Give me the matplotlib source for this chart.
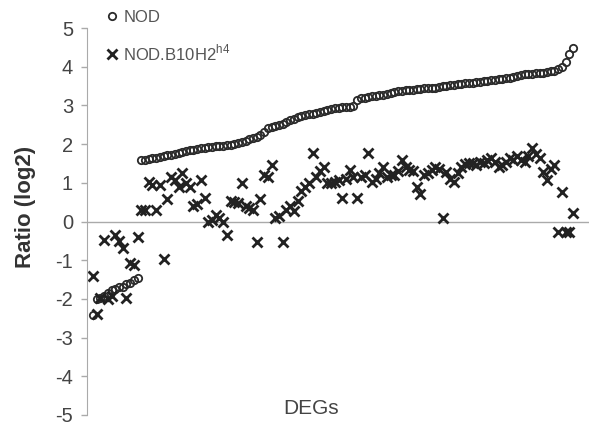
import matplotlib
matplotlib.use("Agg")
import matplotlib.pyplot as plt
import numpy as np

plt.rcParams['font.family'] = ['Liberation Sans', 'DejaVu Sans']
plt.rcParams['axes.unicode_minus'] = False

# log2 ratios per differentially expressed gene, genes sorted by the NOD ratio
nod = [-2.42, -2.00, -1.98, -1.92, -1.85, -1.78, -1.74, -1.70, -1.68, -1.62,
       -1.58, -1.52, -1.47, 1.60, 1.60, 1.61, 1.63, 1.64, 1.67, 1.69,
       1.71, 1.73, 1.75, 1.77, 1.80, 1.82, 1.84, 1.86, 1.88, 1.90,
       1.91, 1.92, 1.93, 1.94, 1.95, 1.96, 1.97, 1.98, 2.00, 2.03,
       2.06, 2.09, 2.12, 2.15, 2.19, 2.23, 2.30, 2.42, 2.44, 2.46,
       2.49, 2.53, 2.58, 2.63, 2.66, 2.70, 2.72, 2.75, 2.77, 2.79,
       2.80, 2.82, 2.85, 2.88, 2.90, 2.92, 2.93, 2.95, 2.96, 2.97,
       2.99, 3.14, 3.18, 3.20, 3.22, 3.23, 3.25, 3.26, 3.28, 3.30,
       3.32, 3.34, 3.36, 3.37, 3.39, 3.40, 3.41, 3.42, 3.43, 3.44,
       3.45, 3.45, 3.46, 3.47, 3.49, 3.51, 3.53, 3.54, 3.55, 3.56,
       3.57, 3.58, 3.59, 3.60, 3.61, 3.62, 3.64, 3.65, 3.66, 3.68,
       3.69, 3.70, 3.72, 3.74, 3.76, 3.78, 3.80, 3.81, 3.82, 3.83,
       3.84, 3.85, 3.86, 3.88, 3.90, 3.93, 4.00, 4.12, 4.32, 4.48]

b10 = [-1.42, -2.40, -1.97, -0.47, -2.00, -1.93, -0.34, -0.50, -0.68, -1.97,
       -1.06, -1.12, -0.40, 0.31, 0.31, 1.03, 0.95, 0.31, 0.95, -0.98,
       0.57, 1.15, 1.08, 0.90, 1.26, 1.00, 0.88, 0.39, 0.45, 1.08,
       0.62, 0.00, 0.05, 0.18, 0.10, 0.00, -0.34, 0.52, 0.50, 0.49,
       1.00, 0.40, 0.36, 0.31, -0.54, 0.57, 1.20, 1.14, 1.47, 0.10,
       0.13, -0.54, 0.31, 0.40, 0.26, 0.52, 0.78, 0.90, 1.00, 1.78,
       1.14, 1.30, 1.42, 1.00, 1.00, 1.03, 1.08, 0.62, 1.10, 1.34,
       1.16, 0.62, 1.16, 1.20, 1.78, 1.03, 1.10, 1.25, 1.40, 1.14,
       1.20, 1.21, 1.30, 1.60, 1.40, 1.34, 1.30, 0.88, 0.70, 1.20,
       1.26, 1.34, 1.42, 1.35, 0.10, 1.29, 1.10, 1.03, 1.26, 1.42,
       1.48, 1.52, 1.52, 1.45, 1.55, 1.50, 1.60, 1.65, 1.55, 1.40,
       1.47, 1.55, 1.65, 1.60, 1.68, 1.60, 1.55, 1.68, 1.90, 1.75,
       1.65, 1.29, 1.08, 1.35, 1.47, -0.28, 0.75, -0.28, -0.28, 0.23]

yticks = list(range(-5, 6))
genes = np.arange(len(nod))

fig = plt.figure(figsize=(5.89, 4.30), dpi=100)
ax = fig.add_axes([87 / 589, 15 / 430, 502 / 589, 387 / 430])

ax.plot(genes, nod, 'o', ms=5.3, mfc='none', mec='#2a2a2a', mew=1.3, label='NOD')
ax.plot(genes, b10, 'x', ms=7.0, mec='#222222', mew=2.0,
        label='NOD.B10H2$^{\\mathregular{h4}}$')

ax.axhline(0, color='#aaaaaa', lw=1.0, zorder=0)
ax.set_xlim(-1.6, 133.3)
ax.set_ylim(-5, 5)
ax.set_yticks(yticks)
ax.set_xticks([])
for s in ('top', 'right', 'bottom'):
    ax.spines[s].set_visible(False)
ax.spines['left'].set_color('#aaaaaa')
ax.tick_params(axis='y', direction='out', length=4, width=1, color='#aaaaaa',
               labelsize=14.5, labelcolor='#444444', pad=6)

fig.text(25 / 589, 1 - 207 / 430, 'Ratio (log2)', rotation=90, fontsize=16,
         fontweight='bold', color='#333333', ha='center', va='center')
fig.text(311 / 589, 1 - 408 / 430, 'DEGs', fontsize=15, color='#444444',
         ha='center', va='center')

ax.legend(loc='upper left', bbox_to_anchor=(105 / 589, 1 - 10 / 430),
          bbox_transform=fig.transFigure, frameon=False, fontsize=12,
          labelcolor='#555555', handlelength=0.8, handletextpad=0.3,
          labelspacing=1.05, borderpad=0, borderaxespad=0)

fig.savefig('out.png', dpi=100)
